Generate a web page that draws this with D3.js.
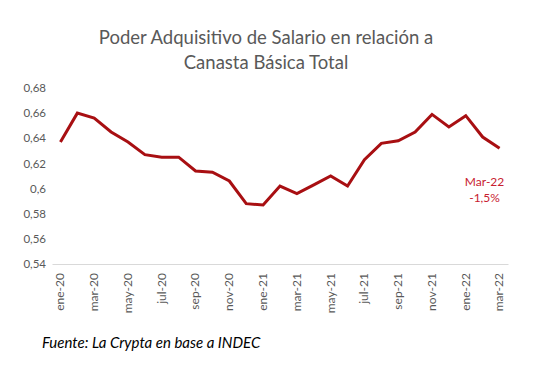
<!DOCTYPE html>
<html>
<head>
<meta charset="utf-8">
<script src="https://d3js.org/d3.v7.min.js"></script>
<style>
  body { margin: 0; background: #fff; }
  svg { display: block; font-family: Lato, "Open Sans", sans-serif; }
</style>
</head>
<body>
<div id="chart"></div>
<script>
// meses (ene-20 .. mar-22)
var meses = ["ene-20","feb-20","mar-20","abr-20","may-20","jun-20","jul-20","ago-20","sep-20","oct-20","nov-20","dic-20",
             "ene-21","feb-21","mar-21","abr-21","may-21","jun-21","jul-21","ago-21","sep-21","oct-21","nov-21","dic-21",
             "ene-22","feb-22","mar-22"];
// poder adquisitivo salario / CBT
var valores = [0.637,0.660,0.656,0.645,0.637,0.627,0.625,0.625,0.614,0.613,0.606,0.588,
               0.587,0.602,0.596,0.603,0.610,0.602,0.623,0.636,0.638,0.645,0.659,0.649,
               0.658,0.641,0.632];
var yTicks = [0.54,0.56,0.58,0.6,0.62,0.64,0.66,0.68];
var titulo = ["Poder Adquisitivo de Salario en relación a", "Canasta Básica Total"];
var nota = ["Mar-22", "-1,5%"];
var fuente = "Fuente: La Crypta en base a INDEC";

var W = 536, H = 370;
var margin = {top: 88, right: 28, bottom: 106, left: 52};
var width = W - margin.left - margin.right,
    height = H - margin.top - margin.bottom;

var svg = d3.select("#chart").append("svg")
  .attr("width", W).attr("height", H);

// titulo
svg.selectAll(".titulo")
  .data(titulo).enter().append("text")
  .attr("class", "titulo")
  .attr("x", 266)
  .attr("y", function(d, i){ return 44 + i * 25; })
  .attr("text-anchor", "middle")
  .attr("fill", "#595959")
  .style("font-size", "18.5px")
  .text(function(d){ return d; });

var g = svg.append("g")
  .attr("transform", "translate(" + margin.left + "," + margin.top + ")");

var x = d3.scaleBand().domain(meses).range([0, width]);
var y = d3.scaleLinear().domain([0.54, 0.68]).range([height, 0]);

// eje y (solo etiquetas)
var fmt = function(d){ return String(+d.toFixed(2)).replace(".", ","); };
var yAxis = g.append("g")
  .call(d3.axisLeft(y).tickValues(yTicks).tickFormat(fmt).tickSize(0).tickPadding(6));
yAxis.select(".domain").remove();
yAxis.selectAll("text")
  .attr("fill", "#595959")
  .style("font-size", "11.5px")
  .style("font-family", "Lato, 'Open Sans', sans-serif");

// eje x
var xAxis = g.append("g")
  .attr("transform", "translate(0," + height + ")")
  .call(d3.axisBottom(x).tickValues(meses.filter(function(d, i){ return i % 2 == 0; })).tickSize(0));
xAxis.select(".domain").attr("stroke", "#d9d9d9").attr("stroke-width", 1);
xAxis.selectAll("text")
  .attr("fill", "#595959")
  .style("font-size", "12px")
  .style("font-family", "Lato, 'Open Sans', sans-serif")
  .attr("text-anchor", "end")
  .attr("transform", "rotate(-90)")
  .attr("dx", "-9px")
  .attr("dy", "0.32em")
  .attr("y", 0)
  .attr("x", 0);

// linea
var line = d3.line()
  .x(function(d, i){ return x(meses[i]) + x.bandwidth() / 2; })
  .y(function(d){ return y(d); });

g.append("path")
  .datum(valores)
  .attr("fill", "none")
  .attr("stroke", "#a80f12")
  .attr("stroke-width", 3)
  .attr("stroke-linejoin", "miter")
  .attr("d", line);

// anotacion
var last = meses.length - 1;
g.selectAll(".nota")
  .data(nota).enter().append("text")
  .attr("class", "nota")
  .attr("x", x(meses[last]) + x.bandwidth() / 2 - 15)
  .attr("y", function(d, i){ return y(valores[last]) + 38 + i * 16; })
  .attr("text-anchor", "middle")
  .attr("fill", "#c8202f")
  .style("font-size", "12px")
  .text(function(d){ return d; });

// fuente
svg.append("text")
  .attr("x", 42)
  .attr("y", 348)
  .attr("fill", "#000")
  .style("font-size", "15px")
  .style("font-style", "italic")
  .text(fuente);
</script>
</body>
</html>
